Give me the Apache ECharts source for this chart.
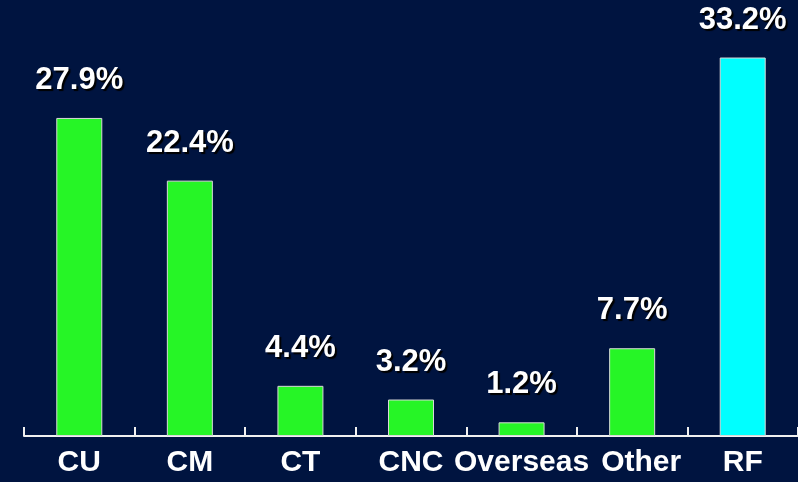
<!DOCTYPE html>
<html><head><meta charset="utf-8">
<script src="https://cdn.jsdelivr.net/npm/echarts@6/dist/echarts.min.js"></script>
<style>html,body{margin:0;padding:0;background:#001440;}#c{width:798px;height:482px;}</style>
</head><body><div id="c"></div>
<script>
const categories = ['CU','CM','CT','CNC','Overseas','Other','RF'];
const shares = [27.9, 22.4, 4.4, 3.2, 1.2, 7.7, 33.2];
const barColors = ['#26f526','#26f526','#26f526','#26f526','#26f526','#26f526','#00ffff'];

const chart = echarts.init(document.getElementById('c'));
chart.setOption({
  backgroundColor: '#001440',
  animation: false,
  grid: {left: 24, right: -7, top: 37, bottom: 46},
  xAxis: {
    type: 'category',
    data: categories,
    boundaryGap: true,
    axisLine: {show: true, lineStyle: {color: '#f0f0f0', width: 2}},
    axisTick: {show: true, inside: true, length: 9, alignWithLabel: false, lineStyle: {color: '#f0f0f0', width: 2}},
    axisLabel: {
      color: '#ffffff', fontFamily: 'Liberation Sans', fontWeight: 'bold', fontSize: 30, margin: 12, interval: 0,
      formatter: (v, i) => i === 5 ? '{o|' + v + '}' : v,
      rich: {o: {color: '#ffffff', fontFamily: 'Liberation Sans', fontWeight: 'bold', fontSize: 30, padding: [0, 0, 0, 18]}}
    }
  },
  yAxis: {type: 'value', min: 0, max: 35, show: false, splitLine: {show: false}},
  series: [{
    type: 'bar',
    barWidth: 46,
    data: shares.map((v, i) => ({value: v, itemStyle: {color: barColors[i]}})),
    itemStyle: {borderColor: '#d8d8d8', borderWidth: 1},
    label: {
      show: true, position: 'top', distance: 22,
      formatter: p => p.value.toFixed(1) + '%',
      color: '#ffffff', fontFamily: 'Liberation Sans', fontWeight: 'bold', fontSize: 31,
      textShadowColor: '#000000', textShadowOffsetX: 2, textShadowOffsetY: 2, textShadowBlur: 1
    }
  }]
});
</script></body></html>
